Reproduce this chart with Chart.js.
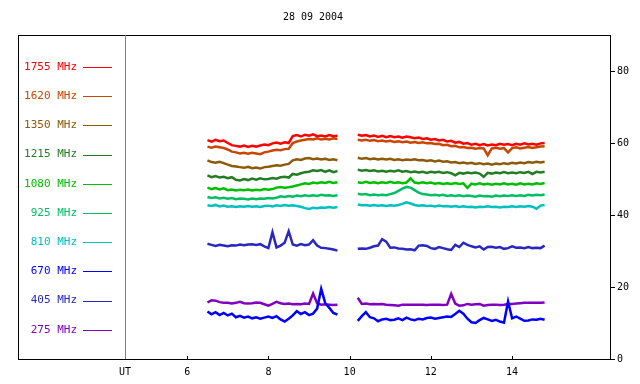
<!DOCTYPE html>
<html>
<head>
<meta charset="utf-8">
<script src="https://cdn.jsdelivr.net/npm/chart.js@4/dist/chart.umd.min.js"></script>
<style>
  body { margin: 0; background: #fff; }
  canvas { display: block; }
</style>
</head>
<body>
<canvas id="radioChart" width="640" height="384"></canvas>
<script>
// Observation date and frequency channels (top to bottom in the legend)
var title = "28 09 2004";
var freqLabels = ["1755 MHz", "1620 MHz", "1350 MHz", "1215 MHz", "1080 MHz",
                  "925 MHz", "810 MHz", "670 MHz", "405 MHz", "275 MHz"];
var colors = ["#ff0000", "#c84600", "#8c5a0a", "#237d23", "#00be00",
              "#00be64", "#00c0c0", "#0000ff", "#2828c0", "#8000c0"];

// Time axis: two observing runs, sampled every 0.1 h (UT)
var run1Start = 6.5, run1Count = 33;
var run2Start = 10.2, run2Count = 47;
var xTicks = [6, 8, 10, 12, 14];
var yTicks = [0, 20, 40, 60, 80];

// Flux per channel, first run (6.5 - 9.7 UT)
var f1755a = [60.8, 60.4, 60.9, 60.5, 60.7, 60.0, 59.4, 59.2, 59.0, 59.3,
              58.9, 59.2, 59.0, 59.3, 59.6, 59.4, 59.9, 60.1, 59.8, 60.2,
              60.0, 61.9, 62.2, 61.8, 62.3, 62.0, 62.4, 61.9, 62.1, 61.8,
              62.2, 61.9, 62.0];
var f1620a = [59.0, 58.7, 59.0, 58.8, 58.6, 58.2, 57.6, 57.4, 57.1, 57.3,
              57.0, 57.3, 57.1, 56.9, 57.4, 57.6, 57.9, 58.1, 58.0, 58.3,
              58.4, 60.0, 60.4, 60.7, 60.9, 61.1, 61.0, 61.3, 61.0, 61.2,
              61.0, 61.3, 61.1];
var f1350a = [55.2, 54.7, 54.5, 54.8, 54.4, 54.0, 53.6, 53.5, 53.3, 53.1,
              53.4, 53.0, 53.2, 52.9, 53.3, 53.4, 53.6, 53.8, 53.7, 54.0,
              54.2, 55.2, 55.5, 55.3, 55.7, 55.8, 55.5, 55.7, 55.4, 55.6,
              55.3, 55.5, 55.2];
var f1215a = [51.0, 50.5, 50.8, 50.4, 50.6, 50.2, 50.5, 49.8, 49.6, 50.0,
              49.7, 50.1, 49.8, 50.2, 49.9, 50.0, 50.3, 50.1, 50.5, 50.6,
              50.4, 51.4, 51.2, 51.6, 51.9, 52.0, 52.4, 52.2, 52.5, 52.0,
              52.4, 51.9, 52.2];
var f1080a = [47.6, 47.2, 47.5, 47.1, 47.4, 46.9, 47.1, 46.8, 47.0, 46.9,
              47.1, 46.8, 47.0, 46.9, 47.2, 47.0, 47.2, 47.6, 47.8, 47.6,
              47.7, 47.9, 48.2, 48.5, 48.8, 48.6, 49.0, 48.8, 49.1, 48.9,
              49.2, 48.9, 49.1];
var f925a  = [45.0, 44.7, 44.9, 44.6, 44.8, 44.5, 44.7, 44.4, 44.6, 44.5,
              44.3, 44.6, 44.4, 44.6, 44.5, 44.7, 44.6, 44.8, 45.2, 45.0,
              45.3, 45.1, 45.4, 45.2, 45.5, 45.3, 45.5, 45.3, 45.6, 45.4,
              45.5, 45.3, 45.5];
var f810a  = [42.7, 42.5, 42.8, 42.4, 42.6, 42.3, 42.4, 42.2, 42.4, 42.3,
              42.5, 42.3, 42.4, 42.2, 42.5, 42.6, 42.4, 42.7, 42.5, 42.8,
              42.6, 42.7, 42.5, 42.3, 41.9, 41.7, 42.0, 41.9, 42.1, 42.0,
              42.2, 42.0, 42.2];
var f670a  = [13.2, 12.4, 13.0, 12.2, 12.8, 12.1, 12.6, 11.6, 12.0, 11.5,
              11.8, 11.3, 11.6, 11.2, 11.5, 11.8, 11.4, 11.9, 11.0, 10.4,
              11.2, 12.1, 13.3, 12.5, 13.0, 12.2, 12.6, 14.0, 19.5, 15.5,
              14.2, 12.8, 12.3];
var f405a  = [32.0, 31.7, 31.4, 31.7, 31.5, 31.3, 31.6, 31.5, 31.8, 31.6,
              31.8, 31.9, 31.7, 31.9, 31.3, 30.8, 35.2, 31.0, 31.5, 32.3,
              35.5, 31.8, 31.5, 31.9, 31.6, 31.8, 33.0, 31.5, 30.9, 30.8,
              30.6, 30.4, 30.1];
var f275a  = [15.7, 16.3, 16.2, 15.8, 15.6, 15.6, 15.4, 15.6, 15.9, 15.5,
              15.4, 15.5, 15.7, 15.6, 15.2, 14.8, 15.3, 15.9, 15.5, 15.3,
              15.4, 15.2, 15.3, 15.2, 15.4, 15.3, 18.2, 15.5, 15.1, 15.2,
              15.1, 15.0, 15.1];

// Flux per channel, second run (10.2 - 14.8 UT)
var f1755b = [62.3, 62.0, 62.2, 61.8, 62.1, 61.7, 62.0, 61.6, 61.9, 61.6,
              61.8, 61.5, 61.8, 61.6, 61.3, 61.5, 61.1, 61.3, 60.9, 61.1,
              60.7, 60.9, 60.4, 60.6, 60.1, 60.3, 59.8, 60.0, 59.5, 59.8,
              59.4, 59.7, 59.3, 59.6, 59.4, 59.8, 59.5, 59.7, 59.4, 59.8,
              59.5, 59.9, 59.6, 59.8, 59.5, 59.9, 60.0];
var f1620b = [60.9, 60.7, 60.9, 60.6, 60.8, 60.5, 60.7, 60.4, 60.6, 60.3,
              60.5, 60.2, 60.4, 60.1, 60.3, 60.0, 60.2, 59.9, 60.0, 59.7,
              59.8, 59.4, 59.5, 59.1, 59.2, 58.8, 58.9, 58.6, 58.7, 58.4,
              58.6, 58.5, 56.6, 58.5, 58.7, 58.4, 58.6, 57.4, 58.6, 58.8,
              58.5, 58.7, 58.9, 58.6, 58.8, 59.0, 59.1];
var f1350b = [55.9, 55.6, 55.8, 55.5, 55.7, 55.4, 55.6, 55.4, 55.6, 55.3,
              55.5, 55.2, 55.4, 55.3, 55.5, 55.2, 55.3, 55.0, 55.2, 54.9,
              55.1, 54.8, 54.9, 54.6, 54.7, 54.4, 54.6, 54.3, 54.5, 54.2,
              54.4, 54.1, 54.3, 54.0, 54.3, 54.1, 54.4, 54.2, 54.5, 54.3,
              54.6, 54.4, 54.7, 54.5, 54.8, 54.6, 54.8];
var f1215b = [52.6, 52.3, 52.5, 52.2, 52.4, 52.1, 52.3, 52.0, 52.3, 52.1,
              52.4, 52.0, 52.2, 51.9, 52.1, 51.8, 52.0, 51.7, 52.0, 51.8,
              52.0, 51.7, 51.9, 51.6, 51.0, 51.7, 51.5, 51.8, 51.6, 51.8,
              51.5, 50.6, 51.7, 51.5, 51.8, 51.6, 51.9, 51.6, 51.8, 51.6,
              51.9, 51.7, 52.0, 51.4, 52.0, 51.8, 52.0];
var f1080b = [49.1, 48.9, 49.2, 48.9, 49.1, 48.8, 49.1, 48.9, 49.2, 48.9,
              49.1, 48.8, 49.0, 50.2, 49.0, 48.8, 49.1, 48.8, 49.0, 48.7,
              48.9, 48.6, 48.8, 48.6, 48.9, 48.6, 48.8, 47.5, 48.7, 48.5,
              48.8, 48.5, 48.7, 48.4, 48.7, 48.5, 48.8, 48.5, 48.7, 48.4,
              48.8, 48.5, 48.7, 48.5, 48.8, 48.6, 48.9];
var f925b  = [45.9, 45.7, 45.8, 45.5, 45.7, 45.5, 45.6, 45.5, 45.8, 46.1,
              46.7, 47.3, 47.8, 47.6, 46.9, 46.2, 45.8, 45.7, 45.5, 45.6,
              45.4, 45.6, 45.3, 45.5, 45.3, 45.5, 45.2, 45.4, 45.3, 45.1,
              45.4, 45.2, 45.3, 45.1, 45.4, 45.2, 45.4, 45.3, 45.5, 45.3,
              45.5, 45.3, 45.6, 45.4, 45.6, 45.5, 45.7];
var f810b  = [42.9, 42.7, 42.8, 42.6, 42.8, 42.6, 42.7, 42.5, 42.7, 42.6,
              42.8, 43.1, 43.5, 43.2, 42.8, 42.6, 42.7, 42.5, 42.6, 42.4,
              42.6, 42.4, 42.5, 42.3, 42.5, 42.2, 42.4, 42.2, 42.3, 42.1,
              42.3, 42.2, 42.4, 42.2, 42.3, 42.1, 42.3, 42.2, 42.4, 42.2,
              42.4, 42.3, 42.5, 42.3, 41.7, 42.6, 42.8];
var f670b  = [10.6, 11.9, 13.0, 11.6, 11.3, 10.5, 11.0, 11.2, 10.8, 10.9,
              11.3, 10.8, 11.5, 11.0, 10.8, 11.2, 11.0, 11.4, 11.5, 11.2,
              11.4, 11.6, 11.8, 11.7, 12.5, 13.4, 12.6, 11.2, 10.2, 10.0,
              10.8, 11.4, 11.0, 10.6, 10.9, 10.4, 10.1, 16.0, 11.3, 11.8,
              11.2, 10.6, 10.7, 11.0, 10.9, 11.2, 10.9];
var f405b  = [30.6, 30.7, 30.6, 30.9, 31.3, 31.5, 33.3, 32.6, 30.9, 31.0,
              30.7, 30.6, 30.4, 30.5, 30.2, 31.5, 31.6, 31.4, 30.8, 30.6,
              31.1, 30.8, 30.5, 30.3, 31.7, 31.1, 32.3, 31.7, 31.3, 31.0,
              31.3, 30.4, 31.1, 31.2, 30.9, 31.1, 30.6, 30.8, 31.3, 30.9,
              31.0, 30.8, 31.1, 30.8, 30.9, 30.8, 31.5];
var f275b  = [17.0, 15.3, 15.4, 15.2, 15.3, 15.2, 15.3, 15.1, 15.0, 14.9,
              14.8, 15.1, 15.1, 15.1, 15.1, 15.1, 15.1, 15.0, 15.1, 15.1,
              15.1, 15.0, 15.1, 18.1, 15.4, 14.8, 14.9, 15.3, 15.1, 15.2,
              15.3, 14.8, 15.0, 15.1, 15.1, 15.0, 15.1, 15.3, 15.3, 15.4,
              15.5, 15.6, 15.6, 15.6, 15.6, 15.6, 15.7];

var run1 = [f1755a, f1620a, f1350a, f1215a, f1080a, f925a, f810a, f670a, f405a, f275a];
var run2 = [f1755b, f1620b, f1350b, f1215b, f1080b, f925b, f810b, f670b, f405b, f275b];

function times(start, n) {
    return Array.from({ length: n }, (_, i) => +(start + i * 0.1).toFixed(1));
}
var t1 = times(run1Start, run1Count);
var t2 = times(run2Start, run2Count);

// Join both runs with a null point so the line breaks in the gap
var datasets = freqLabels.map((label, i) => ({
    label: label,
    borderColor: colors[i],
    borderWidth: 2.5,
    pointRadius: 0,
    tension: 0,
    spanGaps: false,
    data: t1.map((t, k) => ({ x: t, y: run1[i][k] }))
        .concat([{ x: 9.95, y: null }])
        .concat(t2.map((t, k) => ({ x: t, y: run2[i][k] })))
}));

var monoFont = { family: "'DejaVu Sans Mono', monospace", size: 10 };
var xMin = 4.47, xMax = 16.41;

// Frame, legend panel, inward x ticks and title
var decor = {
    id: "decor",
    beforeDraw(chart) {
        var ctx = chart.ctx;
        ctx.save();
        ctx.fillStyle = "#fff";
        ctx.fillRect(0, 0, chart.width, chart.height);
        ctx.restore();
    },
    afterDraw(chart) {
        var ctx = chart.ctx, a = chart.chartArea, x = chart.scales.x;
        ctx.save();
        ctx.lineWidth = 1;
        ctx.strokeStyle = "#000";
        ctx.strokeRect(18.5, 35.5, Math.round(a.right) - 18, Math.round(a.bottom) - 35);

        ctx.strokeStyle = "#808080";
        ctx.beginPath();
        ctx.moveTo(Math.round(a.left) + 0.5, 35);
        ctx.lineTo(Math.round(a.left) + 0.5, a.bottom);
        ctx.stroke();

        ctx.strokeStyle = "#000";
        xTicks.forEach(v => {
            var px = Math.round(x.getPixelForValue(v)) + 0.5;
            ctx.beginPath();
            ctx.moveTo(px, a.bottom);
            ctx.lineTo(px, a.bottom - 3);
            ctx.stroke();
        });

        ctx.font = "11px 'DejaVu Sans Mono', monospace";
        ctx.textAlign = "right";
        ctx.textBaseline = "middle";
        freqLabels.forEach((label, i) => {
            var y = 67 + i * 29.2;
            ctx.fillStyle = colors[i];
            ctx.fillText(label, 77, y);
            ctx.strokeStyle = colors[i];
            ctx.beginPath();
            ctx.moveTo(83, Math.round(y) + 0.5);
            ctx.lineTo(112, Math.round(y) + 0.5);
            ctx.stroke();
        });

        ctx.font = "10px 'DejaVu Sans Mono', monospace";
        ctx.fillStyle = "#000";
        ctx.textAlign = "center";
        ctx.fillText(title, 313, 17);
        ctx.restore();
    }
};

new Chart(document.getElementById("radioChart"), {
    type: "line",
    data: { datasets: datasets },
    plugins: [decor],
    options: {
        responsive: false,
        animation: false,
        devicePixelRatio: 1,
        layout: { padding: { top: 35, left: 125, right: 0, bottom: 0 } },
        plugins: { legend: { display: false }, tooltip: { enabled: false } },
        scales: {
            x: {
                type: "linear",
                position: "bottom",
                min: xMin,
                max: xMax,
                afterFit: s => { s.height = 25; },
                afterBuildTicks: s => {
                    s.ticks = [xMin].concat(xTicks).map(v => ({ value: v }));
                },
                grid: { display: false, drawTicks: false },
                border: { display: false },
                ticks: {
                    color: "#000",
                    font: monoFont,
                    padding: 7,
                    maxRotation: 0,
                    autoSkip: false,
                    callback: v => (Math.abs(v - xMin) < 0.01 ? "UT" : v)
                }
            },
            y: {
                position: "right",
                min: 0,
                max: 90,
                afterFit: s => { s.width = 30; },
                afterBuildTicks: s => {
                    s.ticks = yTicks.map(v => ({ value: v }));
                },
                grid: { drawOnChartArea: false, tickLength: 5, color: "#000" },
                border: { display: false },
                ticks: { color: "#000", font: monoFont, padding: 2 }
            }
        }
    }
});
</script>
</body>
</html>
